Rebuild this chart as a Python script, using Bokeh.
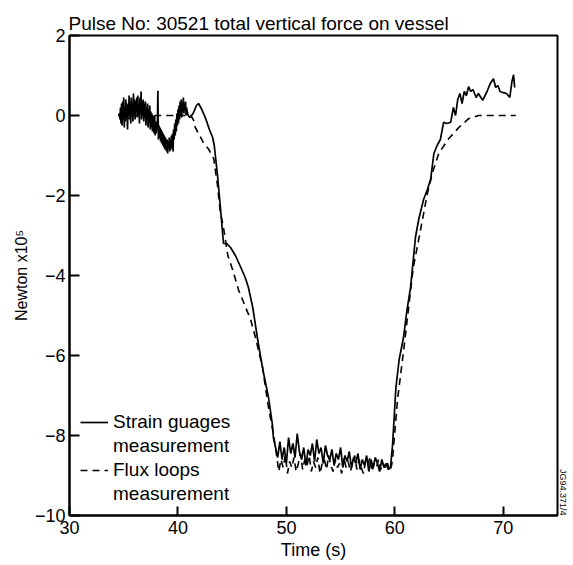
from bokeh.plotting import figure
from bokeh.models import FixedTicker, Legend, LegendItem, Range1d, Title
from bokeh.embed import file_html
from bokeh.resources import INLINE

# ---------------- data ----------------
title_text = "Pulse No: 30521 total vertical force on vessel"
x_label = "Time (s)"
y_label = "Newton x10\u2075"
x_ticks = [30, 40, 50, 60, 70]
y_ticks = [-10, -8, -6, -4, -2, 0, 2]
y_tick_labels = ["\u221210", "\u22128", "\u22126", "\u22124", "\u22122", "0", "2"]
series_names = ["Strain guages", "measurement", "Flux loops", "measurement"]
stamp_text = "JG94.371/4"

# Strain gauges (solid) - noisy start, one reading every 0.05 s from 34.5 s
strain_early_start = 34.5
strain_early_step = 0.05
strain_early = [0.0, 0.0, 0.05, -0.1, 0.2, -0.2, 0.3, -0.25, 0.35, -0.1,
                0.45, -0.3, 0.2, -0.15, 0.4, -0.05, 0.3, -0.35, 0.25, 0.05,
                0.5, -0.1, 0.35, -0.2, 0.45, 0.0, 0.3, -0.15, 0.55, 0.05,
                0.4, -0.1, 0.35, 0.1, 0.45, -0.05, 0.5, 0.0, 0.3, -0.2,
                0.45, 0.05, 0.6, -0.1, 0.35, 0.0, 0.4, -0.15, 0.3, -0.05,
                0.35, -0.25, 0.2, -0.1, 0.3, -0.3, 0.15, -0.2, 0.25, -0.35,
                0.1, -0.3, 0.05, -0.4, 0.0, -0.2, -0.45, 0.0, -0.5, -0.15,
                -0.45, -0.2, -0.3, 0.62, -0.6, -0.25, -0.55, -0.3, -0.65, -0.35,
                -0.7, -0.4, -0.75, -0.45, -0.8, -0.5, -0.85, -0.55, -0.75, -0.9,
                -0.6, -0.95, -0.65, -0.8, -0.55, -0.9, -0.6, -0.85, -0.5, -0.8,
                -0.45, -0.9, -0.35, -0.6, -0.2, -0.5, -0.1, -0.4, 0.05, -0.25,
                0.15, -0.2, 0.25, -0.1, 0.35, 0.0, 0.4, -0.05, 0.3, 0.1,
                0.45, 0.05, 0.3, 0.15, 0.35, 0.0, 0.2, 0.1, 0.05, 0.0]
# Strain gauges - fall
strain_fall_t = [41.1, 41.4, 41.7, 41.9, 42.2, 42.55, 42.9, 43.2, 43.35, 43.65,
                 43.9, 44.2, 44.5, 44.85, 45.3, 45.8, 46.2, 46.5, 46.9, 47.35,
                 47.6, 47.9, 48.35, 48.7, 48.8]
strain_fall_v = [-0.05, 0.05, 0.25, 0.3, 0.15, -0.07, -0.35, -0.55, -0.75, -1.5,
                 -2.25, -3.2, -3.2, -3.3, -3.5, -3.8, -4.05, -4.3, -4.8, -5.6,
                 -6.0, -6.45, -7.05, -7.7, -8.05]
# Strain gauges - flat part of the pulse, every 0.2 s from 49.0 s
strain_flat_start = 49.0
strain_flat_step = 0.2
strain_flat = [-8.3, -8.55, -8.15, -8.6, -8.3, -8.7, -8.05, -8.45, -8.2, -8.55,
               -7.95, -8.4, -8.6, -8.3, -8.75, -8.35, -8.5, -8.2, -8.65, -8.1,
               -8.45, -8.3, -8.7, -8.25, -8.5, -8.6, -8.35, -8.75, -8.45, -8.6,
               -8.3, -8.8, -8.5, -8.65, -8.4, -8.8, -8.55, -8.7, -8.45, -8.85,
               -8.6, -8.75, -8.5, -8.9, -8.6, -8.8, -8.55, -8.7, -8.9, -8.6,
               -8.8, -8.7, -8.85, -8.8]
# Strain gauges - recovery
strain_rise_t = [59.8, 60.1, 60.4, 60.8, 61.1, 61.45, 61.9, 62.2, 62.65, 63.0,
                 63.3, 63.6, 63.9, 64.2, 64.5, 64.8, 65.15, 65.4, 65.6, 65.8,
                 66.0, 66.2, 66.4, 66.6, 66.8, 67.0, 67.2, 67.5, 67.7, 68.1,
                 68.5, 68.8, 69.1, 69.3, 69.5, 69.7, 70.0, 70.3, 70.6, 70.8,
                 70.95, 71.05]
strain_rise_v = [-8.2, -6.8, -6.1, -5.55, -4.9, -4.3, -3.05, -2.6, -2.1, -1.85,
                 -1.6, -0.95, -0.75, -0.6, -0.17, -0.2, -0.17, 0.2, 0.0, 0.4,
                 0.55, 0.3, 0.6, 0.5, 0.72, 0.6, 0.65, 0.45, 0.55, 0.38,
                 0.6, 0.8, 0.92, 0.7, 0.75, 0.6, 0.57, 0.55, 0.45, 0.85,
                 1.02, 0.7]

# Flux loops (dashed)
flux_fall_t = [34.5, 41.2, 41.45, 41.6, 42.35, 42.8, 43.3, 43.65, 43.9, 44.2,
               44.6, 45.1, 45.6, 46.7, 47.15, 47.8, 48.35, 48.8]
flux_fall_v = [0.0, 0.0, -0.12, -0.3, -0.68, -0.83, -1.08, -1.75, -2.4, -2.8,
               -3.5, -3.9, -4.37, -5.1, -5.55, -6.3, -7.3, -7.95]
flux_flat_start = 49.1
flux_flat_step = 0.2
flux_flat = [-8.5, -8.9, -8.6, -8.8, -8.5, -8.95, -8.65, -8.8, -8.55, -8.9,
             -8.7, -8.45, -8.85, -8.6, -8.75, -8.5, -8.9, -8.65, -8.8, -8.55,
             -8.95, -8.7, -8.6, -8.85, -8.5, -8.75, -8.9, -8.6, -8.8, -8.7,
             -8.95, -8.55, -8.8, -8.65, -8.9, -8.7, -8.5, -8.85, -8.6, -8.8,
             -8.95, -8.65, -8.75, -8.55, -8.9, -8.7, -8.8, -8.6, -8.85, -8.7,
             -8.8, -8.65, -8.9, -8.75]
flux_rise_t = [59.8, 60.25, 60.8, 61.7, 62.2, 62.55, 63.0, 63.5, 64.05, 64.9,
               65.9, 66.8, 67.7, 69.0, 70.0, 71.15]
flux_rise_v = [-8.55, -7.1, -5.9, -3.8, -3.1, -2.6, -1.95, -1.4, -0.95, -0.6,
               -0.3, -0.08, 0.0, 0.0, 0.0, 0.0]

# ---------------- assemble series ----------------
def sampled(start, step, vals):
    return [round(start + step * i, 3) for i in range(len(vals))]

strain_t = (sampled(strain_early_start, strain_early_step, strain_early)
            + strain_fall_t
            + sampled(strain_flat_start, strain_flat_step, strain_flat)
            + strain_rise_t)
strain_v = strain_early + strain_fall_v + strain_flat + strain_rise_v

flux_t = flux_fall_t + sampled(flux_flat_start, flux_flat_step, flux_flat) + flux_rise_t
flux_v = flux_fall_v + flux_flat + flux_rise_v

FONT = "Liberation Sans"

p = figure(width=573, height=565, output_backend="svg", toolbar_location=None,
           x_range=Range1d(30, 75), y_range=Range1d(-10, 2),
           min_border_left=69, min_border_right=16, min_border_top=35,
           min_border_bottom=50)
p.grid.visible = False
p.background_fill_color = "white"
p.border_fill_color = "white"
p.outline_line_color = "black"
p.outline_line_width = 2

# title
p.title.text = title_text
p.title.align = "left"
p.title.text_font = FONT
p.title.text_font_size = "19px"
p.title.text_font_style = "normal"
p.title.text_color = "black"
p.title.standoff = 4
p.title.offset = -1

flux_r = p.line(flux_t, flux_v, line_color="black", line_width=1.6, line_dash="7 5")
strain_r = p.line(strain_t, strain_v, line_color="black", line_width=1.7)
blank_r = p.line(x=[], y=[], line_alpha=0)

# axes
p.xaxis.ticker = FixedTicker(ticks=x_ticks)
p.yaxis.ticker = FixedTicker(ticks=y_ticks)
p.yaxis.major_label_overrides = {t: s for t, s in zip(y_ticks, y_tick_labels)}
for ax in (p.xaxis, p.yaxis):
    ax.axis_line_width = 2
    ax.axis_line_color = "black"
    ax.major_tick_line_width = 2
    ax.major_tick_line_color = "black"
    ax.minor_tick_line_color = None
    ax.major_label_text_font = FONT
    ax.major_label_text_font_size = "18px"
    ax.major_label_text_color = "black"
    ax.axis_label_text_font = FONT
    ax.axis_label_text_font_style = "normal"
    ax.axis_label_text_color = "black"
p.xaxis.major_tick_in = 9
p.xaxis.major_tick_out = 0
p.xaxis.major_label_standoff = 5
p.xaxis.axis_label = x_label
p.xaxis.axis_label_text_font_size = "18px"
p.xaxis.axis_label_standoff = 3
p.yaxis.major_tick_in = 10
p.yaxis.major_tick_out = 0
p.yaxis.major_label_standoff = 4
p.yaxis.axis_label = y_label
p.yaxis.axis_label_text_font_size = "16px"
p.yaxis.axis_label_standoff = 2

# figure stamp at the right edge, near the bottom
p.add_layout(Title(text=stamp_text, align="right", text_font=FONT,
                   text_font_size="9px", text_font_style="normal",
                   text_color="black", standoff=1), "right")

legend = Legend(items=[
    LegendItem(label=series_names[0], renderers=[strain_r]),
    LegendItem(label=series_names[1], renderers=[blank_r]),
    LegendItem(label=series_names[2], renderers=[flux_r]),
    LegendItem(label=series_names[3], renderers=[blank_r]),
], location=(11, 10), orientation="vertical", border_line_color=None,
   background_fill_alpha=0, padding=0, margin=0, spacing=2,
   glyph_width=28, glyph_height=20, label_height=20, label_standoff=5,
   label_text_font=FONT, label_text_font_size="19px", label_text_color="black")
p.add_layout(legend)

open("out.html", "w").write(file_html(p, INLINE))
